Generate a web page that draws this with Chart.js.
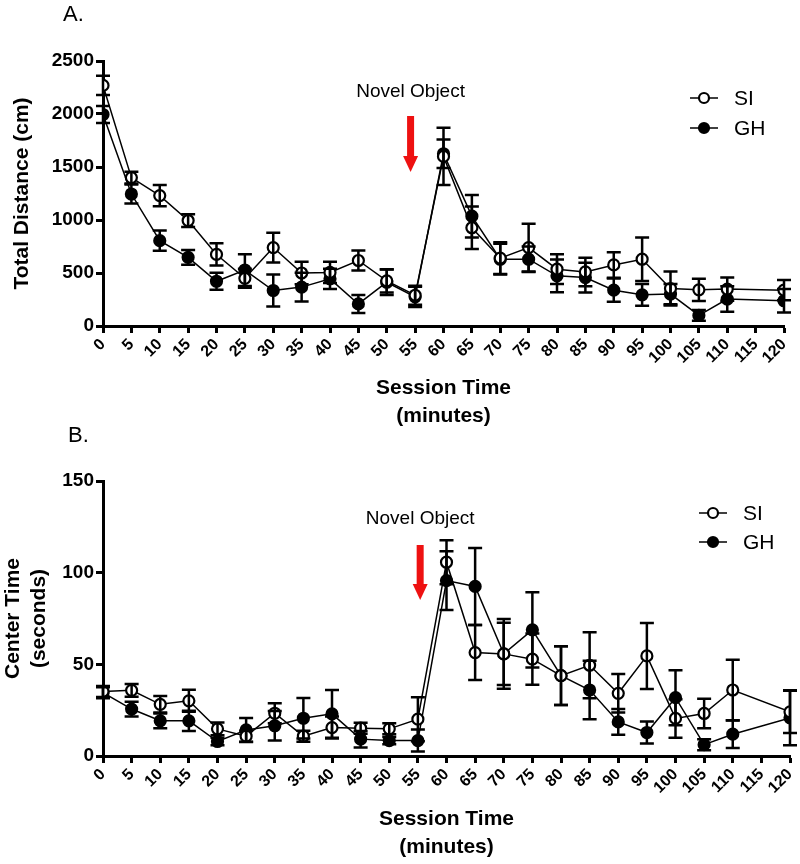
<!DOCTYPE html>
<html>
<head>
<meta charset="utf-8">
<title>Total distance and center time</title>
<script src="https://cdn.jsdelivr.net/npm/chart.js@4.4.1/dist/chart.umd.min.js"></script>
<style>
  body { margin: 0; background: #fff; }
  .panel { position: absolute; left: 0; }
</style>
</head>
<body>
<canvas id="chart-distance" class="panel" style="top:0" width="800" height="432"></canvas>
<canvas id="chart-center" class="panel" style="top:420px" width="800" height="444"></canvas>
<script>
// session time (minutes); nothing was recorded at 115
const sessionTimes = [0, 5, 10, 15, 20, 25, 30, 35, 40, 45, 50, 55, 60, 65, 70, 75, 80, 85, 90, 95, 100, 105, 110, 115, 120];
const timeLabels = sessionTimes.map(String);

// A. total distance (cm), mean and SEM
const siDistance = [2270, 1400, 1230, 995, 675, 450, 740, 500, 505, 618, 425, 290, 1600, 927, 640, 740, 536, 510, 576, 630, 354, 341, 348, null, 338];
const siDistanceErr = [90, 55, 100, 60, 105, 90, 140, 105, 100, 95, 110, 90, 270, 200, 150, 225, 140, 135, 120, 205, 160, 105, 110, null, 95];
const ghDistance = [1995, 1245, 805, 648, 422, 528, 335, 367, 445, 208, 413, 275, 1625, 1036, 630, 630, 473, 457, 338, 294, 301, 100, 254, null, 238];
const ghDistanceErr = [80, 90, 95, 70, 80, 150, 150, 135, 95, 85, 120, 95, 135, 200, 145, 120, 155, 140, 110, 103, 95, 50, 120, null, 110];

// B. center time (seconds), mean and SEM
const siCenter = [35.2, 35.8, 28.2, 30.1, 14.8, 10.8, 23.3, 10.8, 15.5, 15.2, 14.8, 20.1, 105.7, 56.4, 55.7, 52.8, 43.8, 49.5, 34.2, 54.6, 20.5, 23.2, 36, null, 24.1];
const siCenterErr = [3, 3.5, 4.5, 6, 3.5, 3, 5.5, 3, 6, 3, 3, 12, 12, 15, 19, 14, 16, 18, 10.5, 18, 10.5, 8, 16.5, null, 11.5];
const ghCenter = [34.5, 25.6, 19.2, 19.2, 7.9, 14.2, 16.5, 20.6, 23, 9.2, 8.4, 8.4, 95.7, 92.5, 55.7, 68.8, 43.8, 36, 18.6, 12.8, 31.8, 6.2, 11.9, null, 20.8];
const ghCenterErr = [3, 4, 4, 5.5, 2, 6.5, 8, 11, 13, 4.5, 2, 6, 16, 21, 17, 20.5, 16, 16, 7, 6, 15, 3, 7.5, null, 15];

const groupNames = ["SI", "GH"];
const distanceTicks = [0, 500, 1000, 1500, 2000, 2500];
const centerTicks = [0, 50, 100, 150];

const FONT = "'Liberation Sans', Arial, sans-serif";

function toPoints(values) {
  return sessionTimes.map((t, i) => ({ x: t, y: values[i] }));
}

function makeDataset(label, values, errors, filled) {
  return {
    label: label,
    data: toPoints(values),
    errorBars: errors,
    borderColor: "#000",
    borderWidth: 1.5,
    pointRadius: 5.5,
    pointBorderWidth: 2.2,
    pointBorderColor: "#000",
    pointBackgroundColor: filled ? "#000" : "#fff",
    spanGaps: true,
    tension: 0,
  };
}

// mean +/- SEM whiskers with caps
const errorBarPlugin = {
  id: "errorBars",
  afterDatasetsDraw(chart) {
    const ctx = chart.ctx;
    const y = chart.scales.y;
    ctx.save();
    ctx.strokeStyle = "#000";
    ctx.lineWidth = 2.5;
    chart.data.datasets.forEach((ds, i) => {
      const meta = chart.getDatasetMeta(i);
      meta.data.forEach((pt, j) => {
        const v = ds.data[j].y;
        const e = ds.errorBars[j];
        if (v == null || e == null) return;
        const top = y.getPixelForValue(v + e);
        const bot = y.getPixelForValue(Math.max(v - e, 0));
        ctx.beginPath();
        ctx.moveTo(pt.x, top);
        ctx.lineTo(pt.x, bot);
        ctx.moveTo(pt.x - 7, top);
        ctx.lineTo(pt.x + 7, top);
        ctx.moveTo(pt.x - 7, bot);
        ctx.lineTo(pt.x + 7, bot);
        ctx.stroke();
      });
    });
    ctx.restore();
  },
};

// legend drawn from the dataset styles
const groupLegendPlugin = {
  id: "groupLegend",
  afterDraw(chart, args, opts) {
    const ctx = chart.ctx;
    ctx.save();
    chart.data.datasets.forEach((ds, i) => {
      const cy = opts.y + i * opts.rowGap;
      ctx.strokeStyle = "#000";
      ctx.lineWidth = 1.5;
      ctx.beginPath();
      ctx.moveTo(opts.x - 14, cy);
      ctx.lineTo(opts.x + 14, cy);
      ctx.stroke();
      ctx.beginPath();
      ctx.arc(opts.x, cy, 5, 0, Math.PI * 2);
      ctx.fillStyle = ds.pointBackgroundColor;
      ctx.fill();
      ctx.lineWidth = 2.2;
      ctx.stroke();
      ctx.fillStyle = "#000";
      ctx.font = "21px " + FONT;
      ctx.textAlign = "left";
      ctx.textBaseline = "middle";
      ctx.fillText(ds.label, opts.x + 30, cy + 1);
    });
    ctx.restore();
  },
};

// "Novel Object" note with red arrow, plus the panel letter
const notePlugin = {
  id: "novelNote",
  afterDraw(chart, args, opts) {
    const ctx = chart.ctx;
    const x = chart.scales.x.getPixelForValue(opts.at);
    ctx.save();
    ctx.fillStyle = "#000";
    ctx.font = "22px " + FONT;
    ctx.textAlign = "left";
    ctx.textBaseline = "middle";
    ctx.fillText(opts.panel, opts.panelX, opts.panelY);
    ctx.font = "19px " + FONT;
    ctx.textAlign = "center";
    ctx.fillText("Novel Object", x, opts.textY);
    ctx.fillStyle = "#ee1111";
    ctx.fillRect(x - 3.5, opts.arrowTop, 7, opts.arrowBottom - opts.arrowTop - 15);
    ctx.beginPath();
    ctx.moveTo(x - 7.5, opts.arrowBottom - 16);
    ctx.lineTo(x + 7.5, opts.arrowBottom - 16);
    ctx.lineTo(x, opts.arrowBottom);
    ctx.closePath();
    ctx.fill();
    ctx.restore();
  },
};

function axisGrid() {
  return {
    display: true,
    drawOnChartArea: false,
    drawTicks: true,
    tickLength: 7,
    tickWidth: 3,
    tickColor: "#000",
  };
}

function makeChart(canvasId, cfg) {
  const ctx = document.getElementById(canvasId).getContext("2d");
  return new Chart(ctx, {
    type: "line",
    data: {
      datasets: [
        makeDataset(groupNames[0], cfg.si, cfg.siErr, false),
        makeDataset(groupNames[1], cfg.gh, cfg.ghErr, true),
      ],
    },
    plugins: [errorBarPlugin, groupLegendPlugin, notePlugin],
    options: {
      responsive: false,
      animation: false,
      devicePixelRatio: 1,
      layout: {
        padding: { top: 61, left: 0, right: cfg.padRight, bottom: cfg.padBottom },
      },
      plugins: {
        legend: { display: false },
        tooltip: { enabled: false },
        groupLegend: cfg.legend,
        novelNote: cfg.note,
      },
      scales: {
        x: {
          type: "linear",
          min: 0,
          max: 120,
          grid: axisGrid(),
          border: { display: true, color: "#000", width: 3 },
          afterBuildTicks: (scale) => {
            scale.ticks = sessionTimes.map((v) => ({ value: v }));
          },
          afterFit: (scale) => {
            scale.height = cfg.xHeight;
            scale.paddingLeft = 0;
            scale.paddingRight = 0;
          },
          ticks: {
            autoSkip: false,
            minRotation: 45,
            maxRotation: 45,
            padding: 2,
            color: "#000",
            font: { family: FONT, size: 16, weight: "bold" },
            callback: (v, i) => timeLabels[i],
          },
          title: {
            display: true,
            text: ["Session Time", "(minutes)"],
            color: "#000",
            padding: { top: 0, bottom: 0 },
            font: { family: FONT, size: 21, weight: "bold", lineHeight: 1.33 },
          },
        },
        y: {
          min: 0,
          max: cfg.yTicks[cfg.yTicks.length - 1],
          grid: axisGrid(),
          border: { display: true, color: "#000", width: 3 },
          afterBuildTicks: (scale) => {
            scale.ticks = cfg.yTicks.map((v) => ({ value: v }));
          },
          afterFit: (scale) => {
            scale.width = 103;
          },
          ticks: {
            padding: 2,
            color: "#000",
            font: { family: FONT, size: 19, weight: "bold" },
            callback: (v) => String(v),
          },
          title: {
            display: true,
            text: cfg.yTitle,
            color: "#000",
            padding: { top: cfg.yTitlePad, bottom: 0 },
            font: { family: FONT, size: 21, weight: "bold", lineHeight: 1.25 },
          },
        },
      },
    },
  });
}

makeChart("chart-distance", {
  si: siDistance, siErr: siDistanceErr,
  gh: ghDistance, ghErr: ghDistanceErr,
  yTicks: distanceTicks,
  yTitle: "Total Distance (cm)",
  yTitlePad: 9,
  padRight: 16,
  padBottom: 2,
  xHeight: 104,
  legend: { x: 704, y: 98, rowGap: 30 },
  note: { at: 54.2, textY: 92, arrowTop: 116, arrowBottom: 172, panel: "A.", panelX: 63, panelY: 15 },
});

makeChart("chart-center", {
  si: siCenter, siErr: siCenterErr,
  gh: ghCenter, ghErr: ghCenterErr,
  yTicks: centerTicks,
  yTitle: ["Center Time", "(seconds)"],
  yTitlePad: 0,
  padRight: 10,
  padBottom: 3,
  xHeight: 105,
  legend: { x: 713, y: 93, rowGap: 29 },
  note: { at: 55.4, textY: 99, arrowTop: 125, arrowBottom: 180, panel: "B.", panelX: 68, panelY: 16 },
});
</script>
</body>
</html>
